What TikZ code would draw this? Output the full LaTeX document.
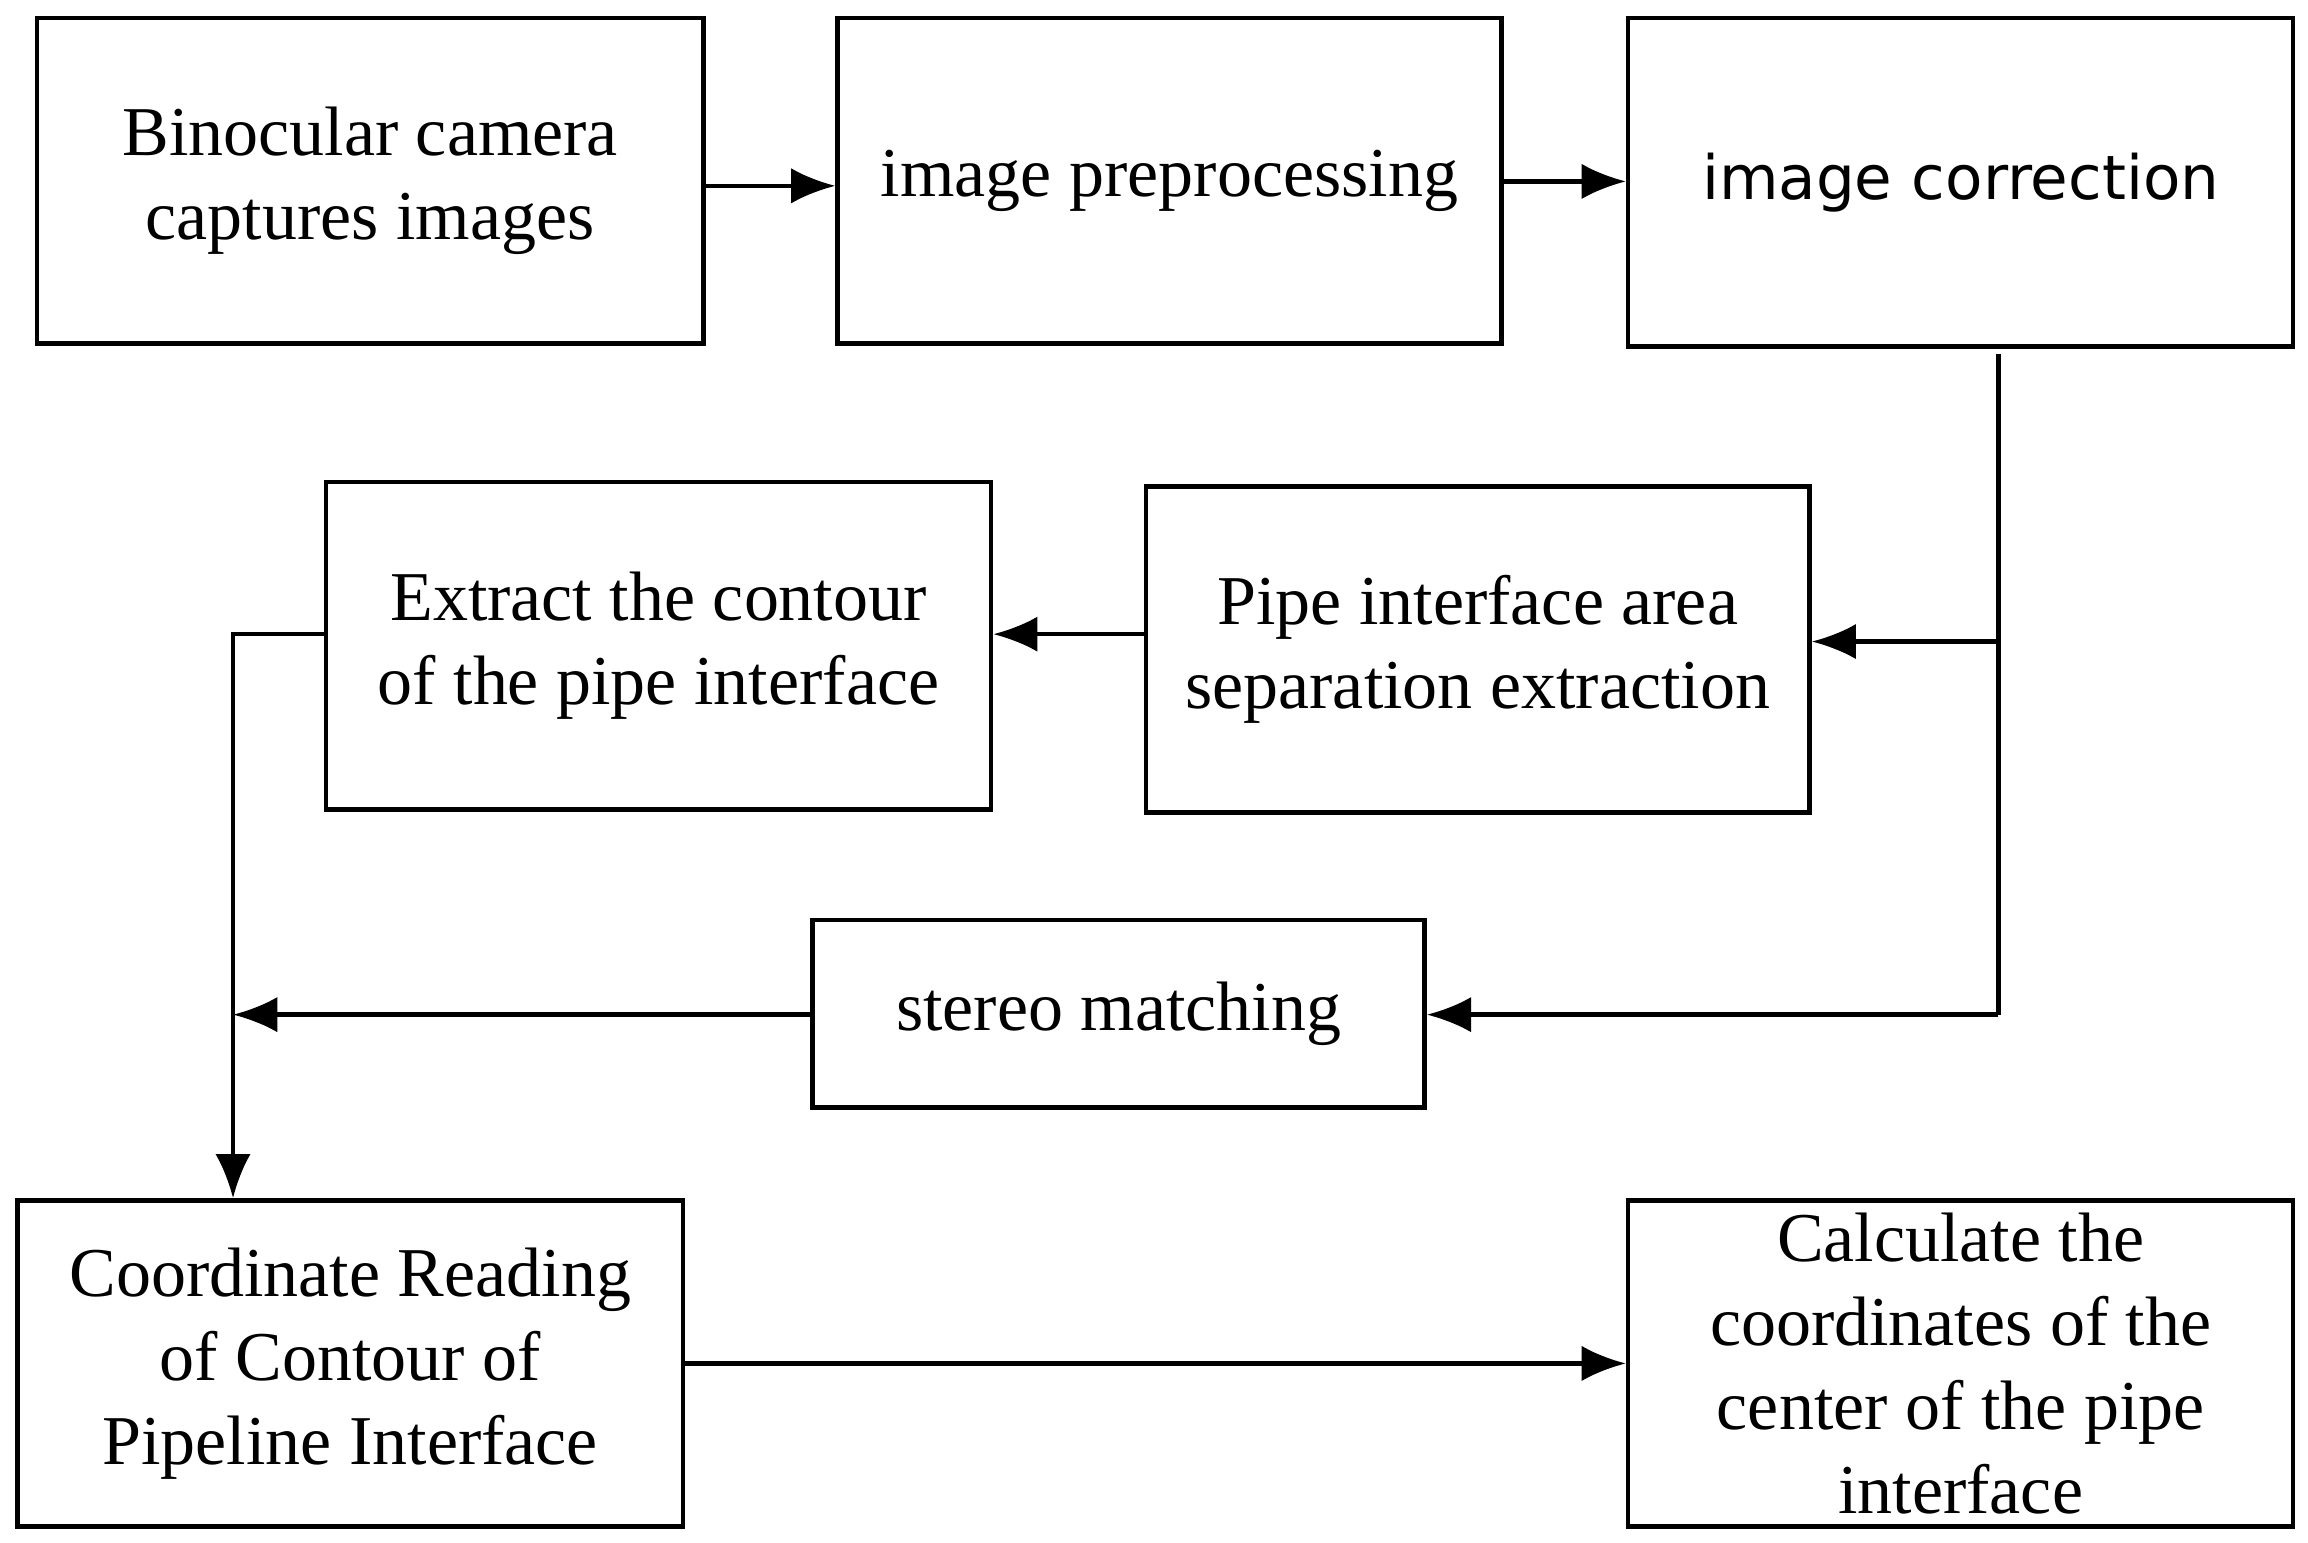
\documentclass[tikz,border=0pt]{standalone}
\usepackage{fontspec}
\setmainfont{Liberation Serif}
\newfontfamily\sansf{DejaVu Sans}
\usetikzlibrary{arrows.meta}
\begin{document}
\begin{tikzpicture}[x=0.1mm,y=-0.1mm,
  box/.style={draw,line width=0.3mm,inner sep=0pt,align=center,font=\fontsize{13.5}{16.2}\selectfont},
  arr/.style={line width=0.3mm,-{Latex[length=3mm,width=2.4mm]}},
  ln/.style={line width=0.3mm}]
\useasboundingbox (0,0) rectangle (1565,1046);
\node[box,minimum width=452mm/10,minimum height=221mm/10] (b1) at (251,122.5) {Binocular camera\\captures images};
\node[box,minimum width=450mm/10,minimum height=221mm/10] (b2) at (793,122.5) {image preprocessing};
\node[box,minimum width=451mm/10,minimum height=223mm/10,font=\sansf\fontsize{11.8}{15}\selectfont] (b3) at (1329.5,123.5) {image correction};
\node[box,minimum width=451mm/10,minimum height=222mm/10] (b4) at (446.5,438) {Extract the contour\\of the pipe interface};
\node[box,minimum width=450mm/10,minimum height=221mm/10] (b5) at (1002,440.5) {Pipe interface area\\separation extraction};
\node[box,minimum width=415mm/10,minimum height=127mm/10] (b6) at (758.5,687.5) {stereo matching};
\node[box,minimum width=451mm/10,minimum height=221mm/10] (b7) at (237.5,924.5) {Coordinate Reading\\of Contour of\\Pipeline Interface};
\node[box,minimum width=451mm/10,minimum height=221mm/10] (b8) at (1329.5,924.5) {Calculate the\\coordinates of the\\center of the pipe\\interface};
\coordinate (t1) at (1355,240);
\coordinate (t2) at (1355,435);
\coordinate (t3) at (1355,688);
\coordinate (l1) at (158,430);
\coordinate (l2) at (158,688);
\draw[arr] (b1.east |- 0,126) -- (b2.west |- 0,126);
\draw[arr] (b2.east |- 0,123) -- (b3.west |- 0,123);
\draw[ln] (t1) -- (t3);
\draw[arr] (t2) -- (b5.east |- t2);
\draw[arr] (b5.west |- 0,430) -- (b4.east |- 0,430);
\draw[arr] (t3) -- (b6.east |- t3);
\draw[arr] (b4.west |- l1) -- (l1) -- (b7.north -| l1);
\draw[arr] (b6.west |- l2) -- (l2);
\draw[arr] (b7.east) -- (b8.west);
\end{tikzpicture}
\end{document}
